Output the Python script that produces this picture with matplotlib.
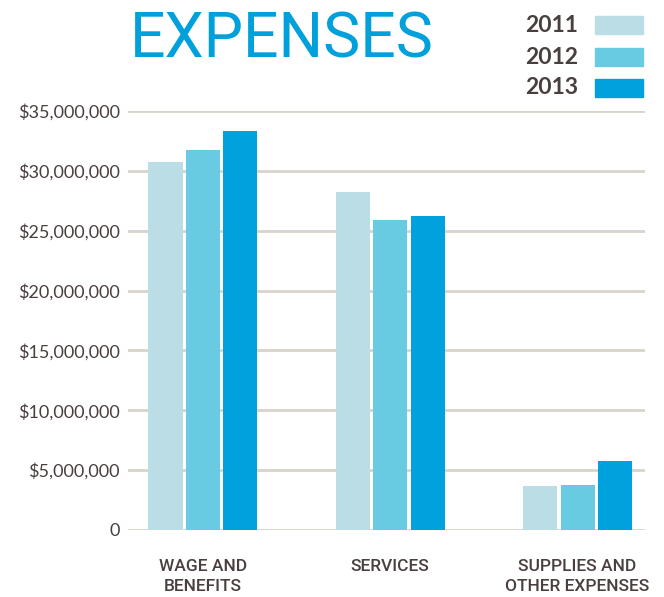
import numpy as np
import matplotlib
matplotlib.use("Agg")
import matplotlib.pyplot as plt
from matplotlib.ticker import FuncFormatter

categories = ["WAGE AND\nBENEFITS", "SERVICES", "SUPPLIES AND\nOTHER EXPENSES"]
years = ["2011", "2012", "2013"]
exp_2011 = [30.75e6, 28.2e6, 3.65e6]
exp_2012 = [31.75e6, 25.9e6, 3.75e6]
exp_2013 = [33.35e6, 26.25e6, 5.75e6]
y_ticks = [0, 5e6, 10e6, 15e6, 20e6, 25e6, 30e6, 35e6]

colors = ["#bbdde6", "#69cbe2", "#00a1dc"]
TEXT = "#4a3f3f"
GRID = "#d8d3cb"
TITLE = "#00a0dc"

plt.rcParams["font.family"] = ["Roboto", "DejaVu Sans"]

fig = plt.figure(figsize=(6.64, 5.97), dpi=100)
W, H = 664, 597
ax = fig.add_axes([128 / W, (H - 530) / H, (645 - 128) / W, (530 - 111) / H])

x = np.arange(len(categories))
width = 0.182
offset = 0.2
for i, vals in enumerate([exp_2011, exp_2012, exp_2013]):
    ax.bar(x + (i - 1) * offset, vals, width, color=colors[i], zorder=3)

ax.set_xlim(-0.40, 2.36)
ax.set_ylim(0, 35e6)
ax.set_yticks(y_ticks)
ax.yaxis.set_major_formatter(FuncFormatter(lambda v, p: "0" if v == 0 else f"${v:,.0f}"))
ax.grid(axis="y", color=GRID, linewidth=2, zorder=0)
ax.set_axisbelow(True)
for s in ax.spines.values():
    s.set_visible(False)
ax.tick_params(axis="y", length=0, pad=6, labelsize=13, labelcolor=TEXT)
for lab in ax.get_yticklabels():
    lab.set_family(["Lato", "DejaVu Sans"])
ax.set_xticks(x)
ax.set_xticklabels(categories, fontsize=12.5, color=TEXT, linespacing=1.38,
                   fontweight="medium")
ax.tick_params(axis="x", length=0, pad=21)

# title
fig.text(130 / W, 1 - 40 / H, "EXPENSES", color=TITLE, fontsize=45,
         ha="left", va="center")

# legend drawn by hand
leg_y = [25, 57, 88]
for yr, c, yy in zip(years, colors, leg_y):
    fig.text(578 / W, 1 - yy / H, yr, color=TEXT, fontsize=16.5,
             ha="right", va="center", fontweight="bold",
             family=["Lato", "DejaVu Sans"])
    fig.patches.append(plt.Rectangle((595 / W, 1 - (yy + 9) / H), 48 / W, 18 / H,
                                     transform=fig.transFigure, color=c))

fig.savefig("out.png", dpi=100)
